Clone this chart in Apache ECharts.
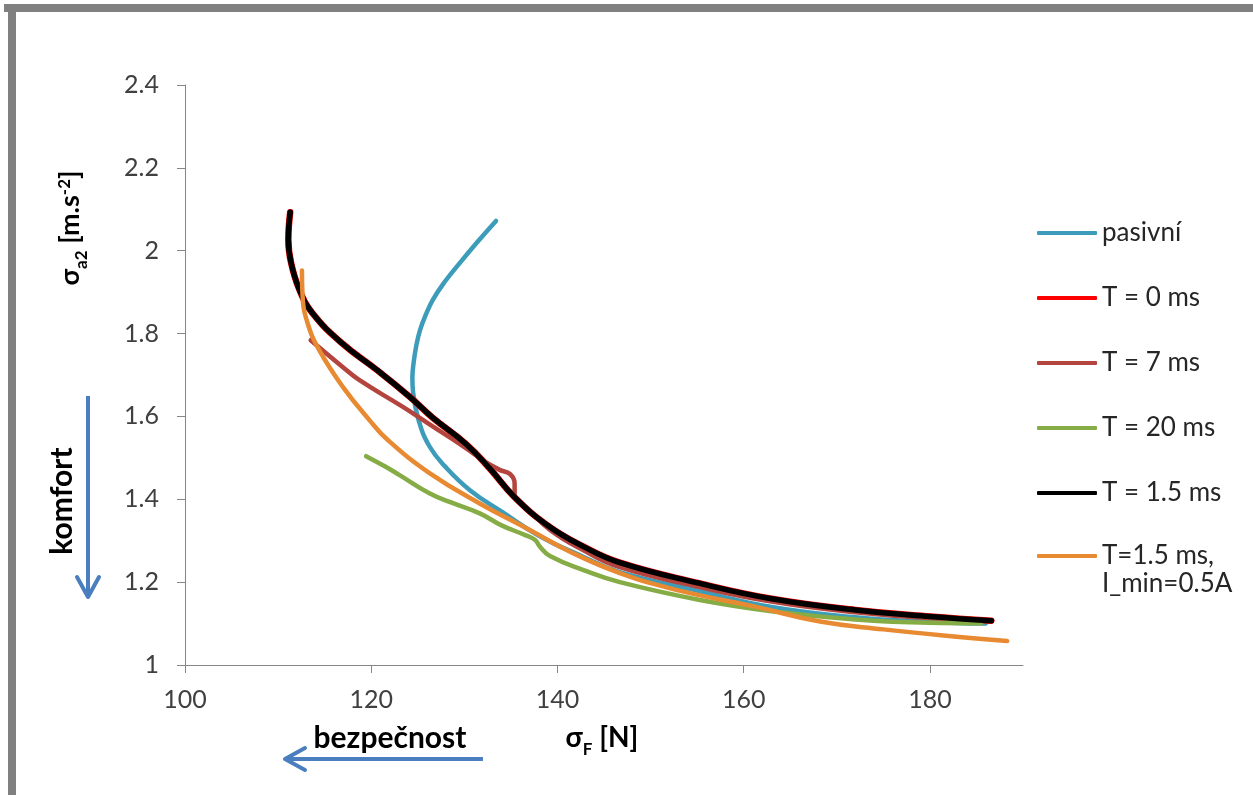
<!DOCTYPE html>
<html><head><meta charset="utf-8">
<script src="https://cdn.jsdelivr.net/npm/echarts@6/dist/echarts.min.js"></script>
<style>html,body{margin:0;padding:0;background:#fff}#c{width:1253px;height:795px}</style>
</head><body><div id="c"></div>
<script>
// ---- data (σF [N], σa2 [m.s-2]) ----
const seriesNames = ['pasivní', 'T = 0 ms', 'T = 7 ms', 'T = 20 ms', 'T = 1.5 ms', 'T=1.5 ms,\nI_min=0.5A'];
const xTicks = [100, 120, 140, 160, 180];
const yTicks = [1, 1.2, 1.4, 1.6, 1.8, 2, 2.2, 2.4];

const pasivniF = [133.4, 131.4, 129.5, 127.9, 126.6, 125.85, 125.25, 124.85, 124.55, 124.42, 124.5, 125.1, 126.25, 127.9, 130.6, 134.1, 138.1, 142.7, 146.7, 155.3, 163.0, 172.0, 180.0, 186.0];
const pasivniA = [2.072, 2.021, 1.970, 1.925, 1.881, 1.845, 1.809, 1.772, 1.729, 1.693, 1.657, 1.590, 1.528, 1.480, 1.422, 1.369, 1.311, 1.262, 1.224, 1.178, 1.140, 1.115, 1.104, 1.100];

const t0F = [111.3, 111.1, 111.4, 112.3, 113.7, 116.9, 120.5, 124.1, 126.6, 130.2, 132.7, 135.4, 139.0, 142.7, 146.7, 155.3, 163.0, 172.0, 180.0, 186.6];
const t0A = [2.093, 2.026, 1.970, 1.905, 1.849, 1.776, 1.714, 1.648, 1.597, 1.533, 1.475, 1.405, 1.336, 1.287, 1.247, 1.197, 1.160, 1.133, 1.117, 1.107];

const t7F = [113.5, 116.9, 118.7, 123.4, 126.6, 130.2, 132.0, 133.8, 134.9, 135.4, 135.4, 137.0, 139.2, 142.7, 146.7, 155.3, 163.0, 172.0, 180.0, 186.2];
const t7A = [1.784, 1.720, 1.688, 1.623, 1.576, 1.523, 1.494, 1.471, 1.461, 1.439, 1.412, 1.374, 1.326, 1.278, 1.236, 1.188, 1.153, 1.127, 1.113, 1.106];

const t20F = [119.45, 121.5, 123.0, 126.3, 128.5, 131.65, 134.0, 136.6, 137.6, 138.1, 139.2, 142.8, 146.7, 155.3, 163.0, 172.0, 180.0, 185.5];
const t20A = [1.504, 1.479, 1.459, 1.414, 1.393, 1.366, 1.337, 1.313, 1.302, 1.286, 1.263, 1.229, 1.200, 1.157, 1.130, 1.110, 1.102, 1.101];

const t15F = [111.3, 111.1, 111.4, 112.3, 113.7, 116.9, 120.5, 124.1, 126.6, 130.2, 132.7, 135.4, 139.0, 142.7, 146.7, 155.3, 163.0, 172.0, 180.0, 186.6];
const t15A = [2.093, 2.026, 1.970, 1.905, 1.849, 1.776, 1.714, 1.648, 1.597, 1.533, 1.475, 1.405, 1.336, 1.287, 1.247, 1.197, 1.160, 1.133, 1.117, 1.107];

const t15iF = [112.56, 112.63, 113.17, 114.42, 116.93, 119.81, 121.78, 126.26, 131.65, 137.03, 141.3, 146.7, 153.0, 161.0, 168.2, 175.0, 182.0, 188.3];
const t15iA = [1.952, 1.889, 1.825, 1.760, 1.672, 1.591, 1.543, 1.463, 1.390, 1.326, 1.274, 1.222, 1.180, 1.142, 1.105, 1.086, 1.070, 1.058];

const seriesColors = ['#3D9CB9', '#FF0000', '#B3443E', '#86AC45', '#000000', '#E88A31'];
const seriesWidths = [4.5, 6.5, 4.5, 4.5, 5.5, 4.5];

const FONT = 'Lato, "Open Sans", sans-serif';
const zip = (xs, ys) => xs.map((x, i) => [x, ys[i]]);
const dataSets = [zip(pasivniF, pasivniA), zip(t0F, t0A), zip(t7F, t7A), zip(t20F, t20A), zip(t15F, t15A), zip(t15iF, t15iA)];

const chart = echarts.init(document.getElementById('c'), null, {renderer: 'canvas'});
const axisGray = '#868686';
const labelColor = '#404040';
const legendText = {fontSize: 26, lineHeight: 28, color: '#262626', fontFamily: FONT};

const option = {
  backgroundColor: '#ffffff',
  animation: false,
  grid: {left: 185, top: 85, width: 838, height: 580, containLabel: false},
  xAxis: {
    type: 'value', min: 100, max: 190,
    axisLine: {show: true, lineStyle: {color: axisGray, width: 1}},
    axisTick: {show: true, length: 8, lineStyle: {color: axisGray}, customValues: xTicks},
    axisLabel: {fontSize: 25, color: labelColor, margin: 22, fontFamily: FONT, customValues: xTicks},
    splitLine: {show: false}
  },
  yAxis: {
    type: 'value', min: 1, max: 2.4,
    axisLine: {show: true, lineStyle: {color: axisGray, width: 1}},
    axisTick: {show: true, length: 8, lineStyle: {color: axisGray}, customValues: yTicks},
    axisLabel: {fontSize: 25, color: labelColor, margin: 26, fontFamily: FONT, customValues: yTicks,
      formatter: v => String(+(+v).toFixed(1))},
    splitLine: {show: false}
  },
  legend: [
    {
      orient: 'vertical', left: 1037, top: 219, padding: 0,
      itemWidth: 60, itemHeight: 4, itemGap: 37, icon: 'roundRect', selectedMode: false,
      textStyle: legendText,
      data: seriesNames.slice(0, 5)
    },
    {
      orient: 'vertical', left: 1037, top: 514, padding: 0,
      itemWidth: 60, itemHeight: 4, icon: 'roundRect', selectedMode: false,
      textStyle: legendText,
      formatter: name => '\n' + name,
      data: [seriesNames[5]]
    }
  ],
  series: seriesNames.map((n, i) => ({
    name: n, type: 'line', data: dataSets[i], smooth: 0.45, showSymbol: false, symbol: 'none',
    color: seriesColors[i],
    lineStyle: {color: seriesColors[i], width: seriesWidths[i], cap: 'round', join: 'round'},
    z: 2
  })),
  graphic: [
    {type: 'rect', silent: true, shape: {x: 4, y: 4, width: 1249, height: 8}, style: {fill: '#808080'}},
    {type: 'rect', silent: true, shape: {x: 8, y: 4, width: 8, height: 791}, style: {fill: '#808080'}},
    {type: 'text', silent: true, x: 70, y: 228, rotation: Math.PI / 2,
      style: {text: '{a|σ}{b|a2}{a| [m.s}{c|-2}{a|]}', align: 'center', verticalAlign: 'middle',
        rich: {
          a: {fontSize: 27, fontWeight: 'bold', fontFamily: FONT, fill: '#000', lineHeight: 32, verticalAlign: 'middle'},
          b: {fontSize: 17, fontWeight: 'bold', fontFamily: FONT, fill: '#000', lineHeight: 32, verticalAlign: 'bottom', padding: [0, 0, -4, 0]},
          c: {fontSize: 17, fontWeight: 'bold', fontFamily: FONT, fill: '#000', lineHeight: 32, verticalAlign: 'top', padding: [2, 0, 0, 0]}
        }}},
    {type: 'text', silent: true, x: 602, y: 738,
      style: {text: '{a|σ}{b|F}{a| [N]}', align: 'center', verticalAlign: 'middle',
        rich: {
          a: {fontSize: 28, fontWeight: 'bold', fontFamily: FONT, fill: '#000', lineHeight: 32, verticalAlign: 'middle'},
          b: {fontSize: 17, fontWeight: 'bold', fontFamily: FONT, fill: '#000', lineHeight: 32, verticalAlign: 'bottom', padding: [0, 0, -4, 0]}
        }}},
    {type: 'text', silent: true, x: 390, y: 738,
      style: {text: 'bezpečnost', align: 'center', verticalAlign: 'middle', fontSize: 30, fontWeight: 'bold', fontFamily: FONT, fill: '#000'}},
    {type: 'text', silent: true, x: 62, y: 501, rotation: Math.PI / 2,
      style: {text: 'komfort', align: 'center', verticalAlign: 'middle', fontSize: 30, fontWeight: 'bold', fontFamily: FONT, fill: '#000'}},
    {type: 'line', silent: true, shape: {x1: 88, y1: 396, x2: 88, y2: 594}, style: {stroke: '#4A7EBE', lineWidth: 4}},
    {type: 'polyline', silent: true, shape: {points: [[77, 577], [88, 597], [99, 577]]}, style: {stroke: '#4A7EBE', lineWidth: 4, fill: null, lineCap: 'round', lineJoin: 'round'}},
    {type: 'line', silent: true, shape: {x1: 483, y1: 759, x2: 288, y2: 759}, style: {stroke: '#4A7EBE', lineWidth: 4}},
    {type: 'polyline', silent: true, shape: {points: [[305, 748], [285, 759], [305, 770]]}, style: {stroke: '#4A7EBE', lineWidth: 4, fill: null, lineCap: 'round', lineJoin: 'round'}}
  ]
};
chart.setOption(option);
</script>
</body></html>
